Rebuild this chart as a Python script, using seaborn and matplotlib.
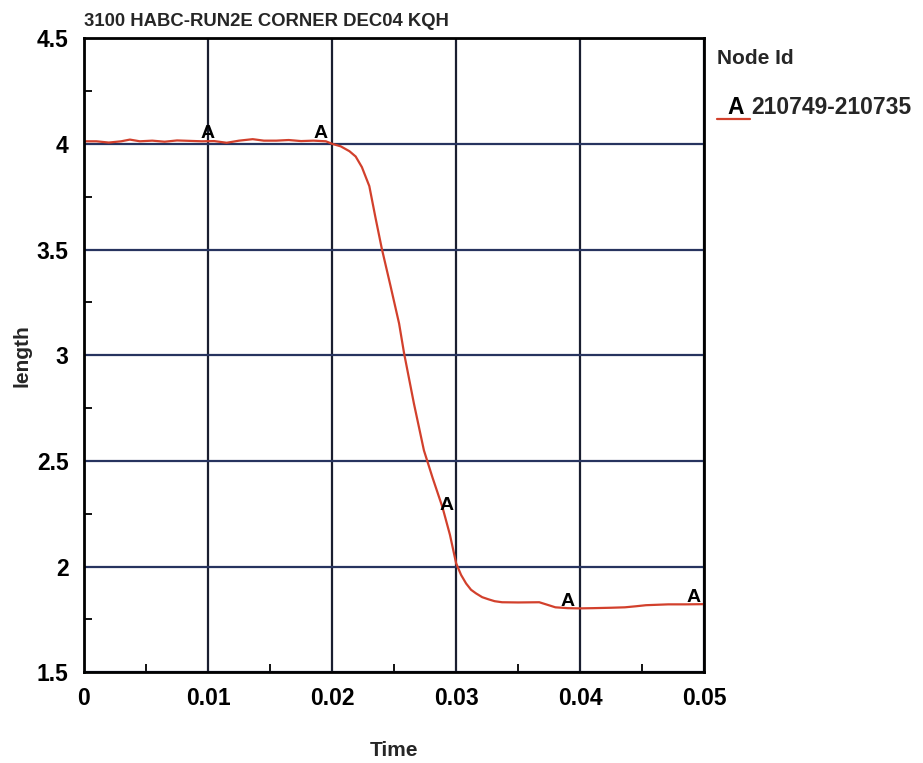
import numpy as np
import pandas as pd
import seaborn as sns
import matplotlib
matplotlib.use("Agg")
import matplotlib.pyplot as plt
from matplotlib.ticker import MultipleLocator, FixedLocator, FixedFormatter
from matplotlib.legend_handler import HandlerBase
from matplotlib.lines import Line2D
from matplotlib.text import Text

# ---------------- data ----------------
title = "3100 HABC-RUN2E CORNER DEC04 KQH"
series_name = "210749-210735"
legend_title = "Node Id"

time = [0.0, 0.001, 0.002, 0.003, 0.0037, 0.0045, 0.0055, 0.0065, 0.0075, 0.0085,
        0.0095, 0.0105, 0.0115, 0.0125, 0.0136, 0.0145, 0.0155, 0.0165, 0.0175, 0.0185,
        0.0195, 0.0200, 0.0207, 0.0214, 0.0219, 0.0224, 0.0230, 0.0235, 0.0240, 0.0247,
        0.0254, 0.0258, 0.0266, 0.0274, 0.0281, 0.0289, 0.0295, 0.0300, 0.0304, 0.0308,
        0.0312, 0.0316, 0.0321, 0.0326, 0.0331, 0.0337, 0.0350, 0.0367, 0.0373, 0.0380,
        0.0390, 0.0399, 0.0410, 0.0425, 0.0436, 0.0445, 0.0453, 0.0462, 0.0471, 0.0485,
        0.0500]
length = [4.012, 4.012, 4.006, 4.012, 4.020, 4.012, 4.015, 4.010, 4.016, 4.014,
          4.012, 4.013, 4.005, 4.015, 4.022, 4.015, 4.015, 4.018, 4.013, 4.015,
          4.012, 4.000, 3.988, 3.965, 3.940, 3.890, 3.800, 3.650, 3.506, 3.330,
          3.150, 3.010, 2.770, 2.550, 2.420, 2.280, 2.150, 2.015, 1.960, 1.920,
          1.890, 1.873, 1.855, 1.845, 1.836, 1.831, 1.830, 1.831, 1.820, 1.807,
          1.803, 1.802, 1.803, 1.805, 1.807, 1.812, 1.817, 1.819, 1.821, 1.821,
          1.822]

# "A" symbol positions along the curve
marker_time = [0.0100, 0.0191, 0.0292, 0.0390, 0.0491]
marker_len = [4.05, 4.05, 2.29, 1.836, 1.855]

x_ticks = [0.0, 0.01, 0.02, 0.03, 0.04, 0.05]
x_ticklabels = ["0", "0.01", "0.02", "0.03", "0.04", "0.05"]
y_ticks = [1.5, 2.0, 2.5, 3.0, 3.5, 4.0, 4.5]
y_ticklabels = ["1.5", "2", "2.5", "3", "3.5", "4", "4.5"]

df = pd.DataFrame({"Time": time, "length": length})

# ---------------- style ----------------
sns.set_style("white")
plt.rcParams["font.family"] = ["Liberation Sans", "DejaVu Sans"]
plt.rcParams["font.weight"] = "bold"

LINE_COLOR = "#d2402c"

fig = plt.figure(figsize=(9.23, 7.63), dpi=100)
ax = fig.add_axes([0.091, 0.119, 0.672, 0.831])

sns.lineplot(data=df, x="Time", y="length", ax=ax, color=LINE_COLOR,
             linewidth=1.6, legend=False, estimator=None, sort=False)

for t, v in zip(marker_time, marker_len):
    ax.text(t, v, "A", ha="center", va="center", fontsize=14,
            fontweight="bold", color="black", zorder=5)

ax.set_xlim(0, 0.05)
ax.set_ylim(1.5, 4.5)
ax.xaxis.set_major_locator(FixedLocator(x_ticks))
ax.xaxis.set_major_formatter(FixedFormatter(x_ticklabels))
ax.yaxis.set_major_locator(FixedLocator(y_ticks))
ax.yaxis.set_major_formatter(FixedFormatter(y_ticklabels))
ax.xaxis.set_minor_locator(MultipleLocator(0.005))
ax.yaxis.set_minor_locator(MultipleLocator(0.25))

ax.tick_params(which="major", direction="out", length=5, width=1.5,
               labelsize=16.5, pad=6, colors="black")
ax.tick_params(which="minor", direction="in", length=6, width=1.3,
               bottom=True, left=True, colors="black")
for lab in ax.get_xticklabels() + ax.get_yticklabels():
    lab.set_fontweight("bold")

ax.xaxis.grid(True, which="major", color="#1a1e30", linewidth=1.6)
ax.yaxis.grid(True, which="major", color="#27345f", linewidth=1.6)
ax.set_axisbelow(True)

for s in ax.spines.values():
    s.set_color("black")
    s.set_linewidth(2)
    s.set_visible(True)

ax.set_xlabel("Time", fontsize=15, fontweight="bold", labelpad=22)
ax.set_ylabel("length", fontsize=15, fontweight="bold", labelpad=4)
ax.set_title(title, loc="left", fontsize=13.3, fontweight="bold", pad=9)


class HandlerA(HandlerBase):
    def create_artists(self, legend, orig_handle, xdescent, ydescent,
                       width, height, fontsize, trans):
        y0 = -ydescent - 0.3 * height
        line = Line2D([-xdescent, -xdescent + width], [y0, y0],
                      color=orig_handle.get_color(), linewidth=1.6,
                      transform=trans)
        txt = Text(-xdescent + width * 0.55, -ydescent + 0.45 * height, "A",
                   ha="center", va="center", fontsize=fontsize,
                   fontweight="bold", color="black", transform=trans)
        return [line, txt]


line = ax.lines[0]
leg = fig.legend([line], [series_name], handler_map={line: HandlerA()},
                 title=legend_title, loc="upper left",
                 bbox_to_anchor=(0.757, 0.960), frameon=False,
                 fontsize=16.5, title_fontsize=15, alignment="left",
                 handlelength=1.45, handletextpad=0.05, labelspacing=1.25,
                 borderpad=0.3)
leg.get_title().set_fontweight("bold")
for t in leg.get_texts():
    t.set_fontweight("bold")

fig.savefig("out.png", dpi=100, facecolor="white")
